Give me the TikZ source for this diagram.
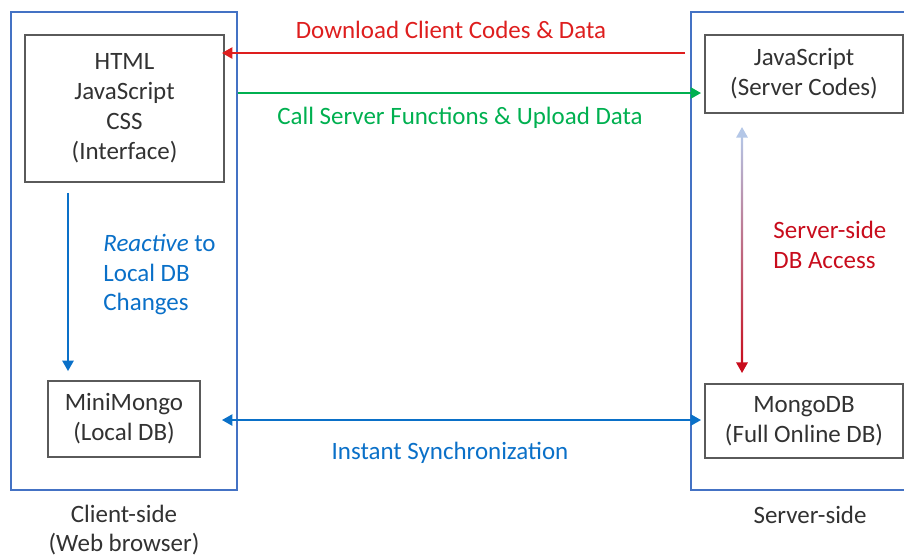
\documentclass[tikz,border=0pt]{standalone}
\usepackage{fontspec}
\setmainfont{Carlito}
\usetikzlibrary{arrows.meta}

\definecolor{sidecol}{RGB}{68,114,196}
\definecolor{boxcol}{RGB}{90,90,90}
\definecolor{txtcol}{RGB}{50,50,50}
\definecolor{dlred}{RGB}{222,30,30}
\definecolor{upgreen}{RGB}{0,176,80}
\definecolor{syncblue}{RGB}{10,112,200}
\definecolor{paleblue}{RGB}{180,199,231}
\definecolor{dbred}{RGB}{200,12,28}

\begin{document}
\begin{tikzpicture}[x=0.01cm,y=-0.01cm,
    font=\fontsize{7.1}{8.5}\selectfont, text=txtcol,
    side/.style={draw=sidecol,line width=0.6pt,inner sep=0pt},
    part/.style={draw=boxcol,line width=0.5pt,align=center,inner sep=0pt},
    flow/.style={line width=0.6pt,-{Triangle[length=3pt,width=3.2pt]}},
    both/.style={line width=0.6pt,{Triangle[length=3pt,width=3.2pt]}-{Triangle[length=3pt,width=3.2pt]}}]
  \useasboundingbox (0,0) rectangle (904,556);
  \clip (0,0) rectangle (904,556);

  % client and server sides
  \node[side,minimum width=2.26cm,minimum height=4.78cm] (client) at (124,251) {};
  \node[side,minimum width=2.3cm,minimum height=4.78cm] (server) at (806,251) {};

  \node[part,minimum width=1.99cm,minimum height=1.47cm] (ui) at (124.5,108.5) {HTML\\JavaScript\\CSS\\(Interface)};
  \node[part,minimum width=1.52cm,minimum height=0.76cm] (mini) at (124,419) {MiniMongo\\(Local DB)};
  \node[part,minimum width=1.98cm,minimum height=0.78cm] (srv) at (804,74) {JavaScript\\(Server Codes)};
  \node[part,minimum width=1.98cm,minimum height=0.74cm] (mongo) at (804,421) {MongoDB\\(Full Online DB)};

  \node[align=center] (clientlbl) at (124,530) {Client-side\\(Web browser)};
  \node (serverlbl) at (810,515) {Server-side};

  % arrows between the sides
  \draw[flow,dlred,shorten <=0.19cm,shorten >=-0.03cm] (srv.west |- 0,53) -- (ui.east |- 0,53);
  \node[text=dlred] (dltxt) at (451,30) {Download Client Codes \& Data};

  \draw[flow,upgreen,shorten >=0.03cm] (client.east |- 0,93) -- (srv.west |- 0,93);
  \node[text=upgreen] (uptxt) at (460,118) {Call Server Functions \& Upload Data};

  \draw[both,syncblue,shorten <=-0.03cm,shorten >=0.03cm] (ui.east |- 0,420) -- (mongo.west |- 0,420);
  \node[text=syncblue] (synctxt) at (450,453) {Instant Synchronization};

  % inside the client
  \draw[flow,syncblue,shorten <=0.1cm,shorten >=0.09cm] (ui.south -| 68,0) -- (mini.north -| 68,0);
  \node[text=syncblue,align=left,anchor=west] (reacttxt) at (91,274.5) {\textit{Reactive} to\\Local DB\\Changes};

  % inside the server
  \coordinate (accTop) at (742,127);
  \coordinate (accBot) at (742,373);
  \shade[top color=paleblue,bottom color=dbred] (740.9,134) rectangle (743.1,366);
  \draw[flow,paleblue] (742,136) -- (accTop);
  \draw[flow,dbred] (742,364) -- (accBot);
  \node[text=dbred,align=left,anchor=west] (acctxt) at (761,244.5) {Server-side\\DB Access};
\end{tikzpicture}
\end{document}
